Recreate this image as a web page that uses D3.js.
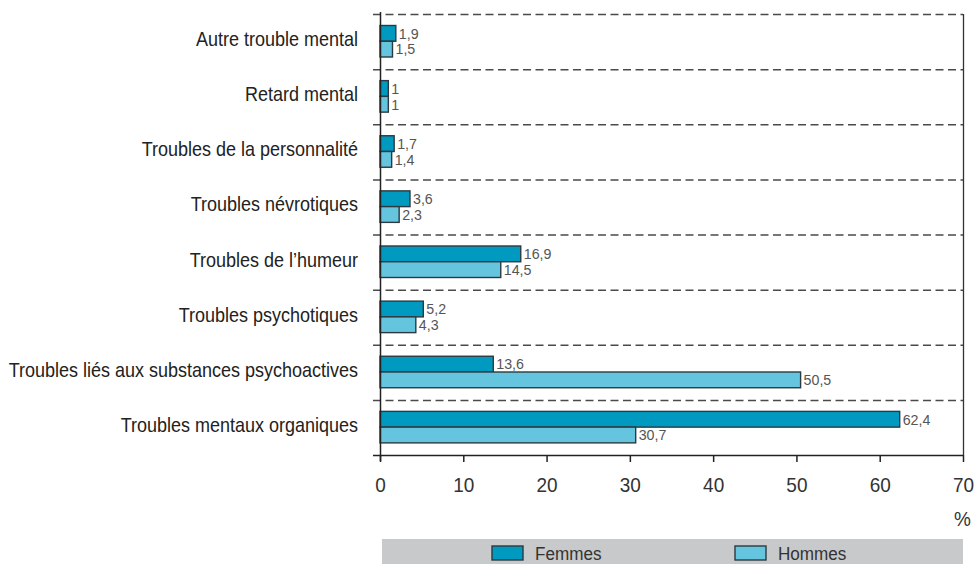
<!DOCTYPE html>
<html>
<head>
<meta charset="utf-8">
<script src="https://cdn.jsdelivr.net/npm/d3@7"></script>
<style>
  body { margin: 0; background: #fff; }
  svg { display: block; }
  text { font-family: "Liberation Sans Narrow", "Arial Narrow", "Liberation Sans", sans-serif; }
</style>
</head>
<body>
<svg id="chart"></svg>
<script>
const categories = [
  'Autre trouble mental',
  'Retard mental',
  'Troubles de la personnalité',
  'Troubles névrotiques',
  "Troubles de l’humeur",
  'Troubles psychotiques',
  'Troubles liés aux substances psychoactives',
  'Troubles mentaux organiques'
];
const femmes = [1.9, 1, 1.7, 3.6, 16.9, 5.2, 13.6, 62.4];
const hommes = [1.5, 1, 1.4, 2.3, 14.5, 4.3, 50.5, 30.7];
const seriesNames = ['Femmes', 'Hommes'];
const seriesColors = ['#0099bf', '#66c5de'];
const xTicks = [0, 10, 20, 30, 40, 50, 60, 70];

const width = 975, height = 564;
const svg = d3.select('#chart').attr('width', width).attr('height', height);

const plotLeft = 380, plotRight = 963, plotTop = 14, plotBottom = 455;
const squeeze = 0.9; // the original uses a condensed face

const x = d3.scaleLinear().domain([0, 70]).range([plotLeft, plotRight]);
const y = d3.scaleBand().domain(categories).range([plotTop, plotBottom]);
const ySub = d3.scaleBand().domain(seriesNames).range([11.5, 43]);

const fmt = v => String(v).replace('.', ',');

// dashed separators
svg.append('g')
  .selectAll('line')
  .data(categories)
  .join('line')
  .attr('x1', plotLeft - 7)
  .attr('x2', plotRight)
  .attr('y1', d => y(d) + 0.5)
  .attr('y2', d => y(d) + 0.5)
  .attr('stroke', '#4a4a4a')
  .attr('stroke-width', 1.5)
  .attr('stroke-dasharray', '8,4.5');

// right border
svg.append('line')
  .attr('x1', plotRight + 0.5).attr('x2', plotRight + 0.5)
  .attr('y1', plotTop).attr('y2', plotBottom)
  .attr('stroke', '#333').attr('stroke-width', 1.3);

// bars
const data = categories.map((c, i) => ({ cat: c, vals: [femmes[i], hommes[i]] }));
const groups = svg.append('g')
  .selectAll('g')
  .data(data)
  .join('g')
  .attr('transform', d => `translate(0,${y(d.cat)})`);

groups.selectAll('rect')
  .data(d => d.vals.map((v, j) => ({ v, s: seriesNames[j], j })))
  .join('rect')
  .attr('x', x(0))
  .attr('y', d => ySub(d.s))
  .attr('width', d => x(d.v) - x(0))
  .attr('height', ySub.bandwidth())
  .attr('fill', d => seriesColors[d.j])
  .attr('stroke', '#2b3a40')
  .attr('stroke-width', 1.4);

groups.selectAll('text.val')
  .data(d => d.vals.map((v, j) => ({ v, s: seriesNames[j] })))
  .join('text')
  .attr('class', 'val')
  .attr('transform', d => `translate(${x(d.v) + 3},${ySub(d.s) + ySub.bandwidth() / 2}) scale(0.95,1)`)
  .attr('dy', '0.35em')
  .attr('font-size', 15)
  .attr('fill', '#555')
  .text(d => fmt(d.v));

// category labels
svg.append('g')
  .selectAll('text')
  .data(categories)
  .join('text')
  .attr('transform', d => `translate(358,${y(d) + 32}) scale(${squeeze},1)`)
  .attr('text-anchor', 'end')
  .attr('font-size', 20)
  .attr('fill', '#222')
  .text(d => d);

// left axis line
svg.append('line')
  .attr('x1', plotLeft + 0.5).attr('x2', plotLeft + 0.5)
  .attr('y1', plotTop - 2).attr('y2', plotBottom + 6)
  .attr('stroke', '#222').attr('stroke-width', 1.5);

// x axis
const xAxis = d3.axisBottom(x).tickValues(xTicks).tickSize(7).tickPadding(0)
  .tickFormat(d => d);
const gx = svg.append('g').attr('transform', `translate(0,${plotBottom})`).call(xAxis);
gx.select('.domain').remove();
gx.append('line')
  .attr('x1', plotLeft - 7).attr('x2', plotRight)
  .attr('y1', 0.5).attr('y2', 0.5)
  .attr('stroke', '#222').attr('stroke-width', 1.5);
gx.selectAll('.tick line').attr('stroke', '#222').attr('stroke-width', 1.5);
gx.selectAll('.tick text')
  .attr('y', 0).attr('dy', 0)
  .attr('transform', 'translate(0,37) scale(0.95,1)')
  .attr('font-family', '"Liberation Sans Narrow", "Arial Narrow", "Liberation Sans", sans-serif')
  .attr('font-size', 20)
  .attr('fill', '#333');

svg.append('text')
  .attr('transform', `translate(${plotRight + 8},526) scale(0.95,1)`)
  .attr('text-anchor', 'end')
  .attr('font-size', 20)
  .attr('fill', '#333')
  .text('%');

// legend
svg.append('rect')
  .attr('x', 382).attr('y', 539)
  .attr('width', plotRight - 382).attr('height', 30)
  .attr('fill', '#c8c9ca');

const legendX = d3.scaleOrdinal().domain(seriesNames).range([492, 735]);
const leg = svg.append('g')
  .selectAll('g')
  .data(seriesNames)
  .join('g')
  .attr('transform', d => `translate(${legendX(d)},546)`);
leg.append('rect')
  .attr('width', 31).attr('height', 14)
  .attr('fill', (d, i) => seriesColors[i])
  .attr('stroke', '#2b3a40').attr('stroke-width', 1.4);
leg.append('text')
  .attr('transform', `translate(43,14) scale(${squeeze},1)`)
  .attr('font-size', 19)
  .attr('fill', '#333')
  .text(d => d);
</script>
</body>
</html>
